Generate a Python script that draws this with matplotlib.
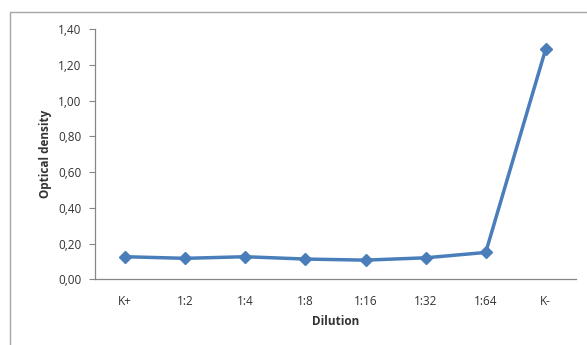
import matplotlib
matplotlib.use("Agg")
import matplotlib.pyplot as plt
import matplotlib.patches as patches
from matplotlib.ticker import FuncFormatter

dilutions = ["K+", "1:2", "1:4", "1:8", "1:16", "1:32", "1:64", "K-"]
optical_density = [0.127, 0.118, 0.127, 0.114, 0.108, 0.121, 0.151, 1.29]

plt.rcParams["font.family"] = ["Open Sans", "DejaVu Sans"]

fig = plt.figure(figsize=(5.87, 3.45), dpi=100)
ax = fig.add_axes([0.162, 0.19, 0.819, 0.726])

# outer chart frame (Excel style)
fig.patches.append(patches.Rectangle(
    (10 / 587, -0.1), 1.2, 1 - 12 / 345 + 0.1,
    transform=fig.transFigure, fill=False,
    edgecolor="#a6a6a6", linewidth=1.0
))

x = range(len(dilutions))
ax.plot(x, optical_density, color="#4a7ebb", linewidth=2.5,
        marker="D", markersize=6.5, markerfacecolor="#4a7ebb",
        markeredgecolor="#4a7ebb")

ax.set_xlim(-0.5, len(dilutions) - 0.5)
ax.set_ylim(0, 1.4)
ax.set_xticks(list(x))
ax.set_xticklabels(dilutions)
ax.set_yticks([i * 0.2 for i in range(8)])
ax.yaxis.set_major_formatter(FuncFormatter(lambda v, p: f"{v:.2f}".replace(".", ",")))

for side in ["top", "right"]:
    ax.spines[side].set_visible(False)
for side in ["left", "bottom"]:
    ax.spines[side].set_color("#868686")
    ax.spines[side].set_linewidth(0.9)

ax.tick_params(axis="y", direction="out", length=4, color="#868686",
               labelsize=8.5, labelcolor="#333333", pad=6)
ax.tick_params(axis="x", length=0, labelsize=8.5, labelcolor="#333333", pad=11)

ax.set_xlabel("Dilution", fontsize=8.5, fontweight="bold", color="#333333", labelpad=5)
ax.set_ylabel("Optical density", fontsize=8.5, fontweight="bold", color="#333333", labelpad=4)

fig.savefig("out.png", dpi=100)
